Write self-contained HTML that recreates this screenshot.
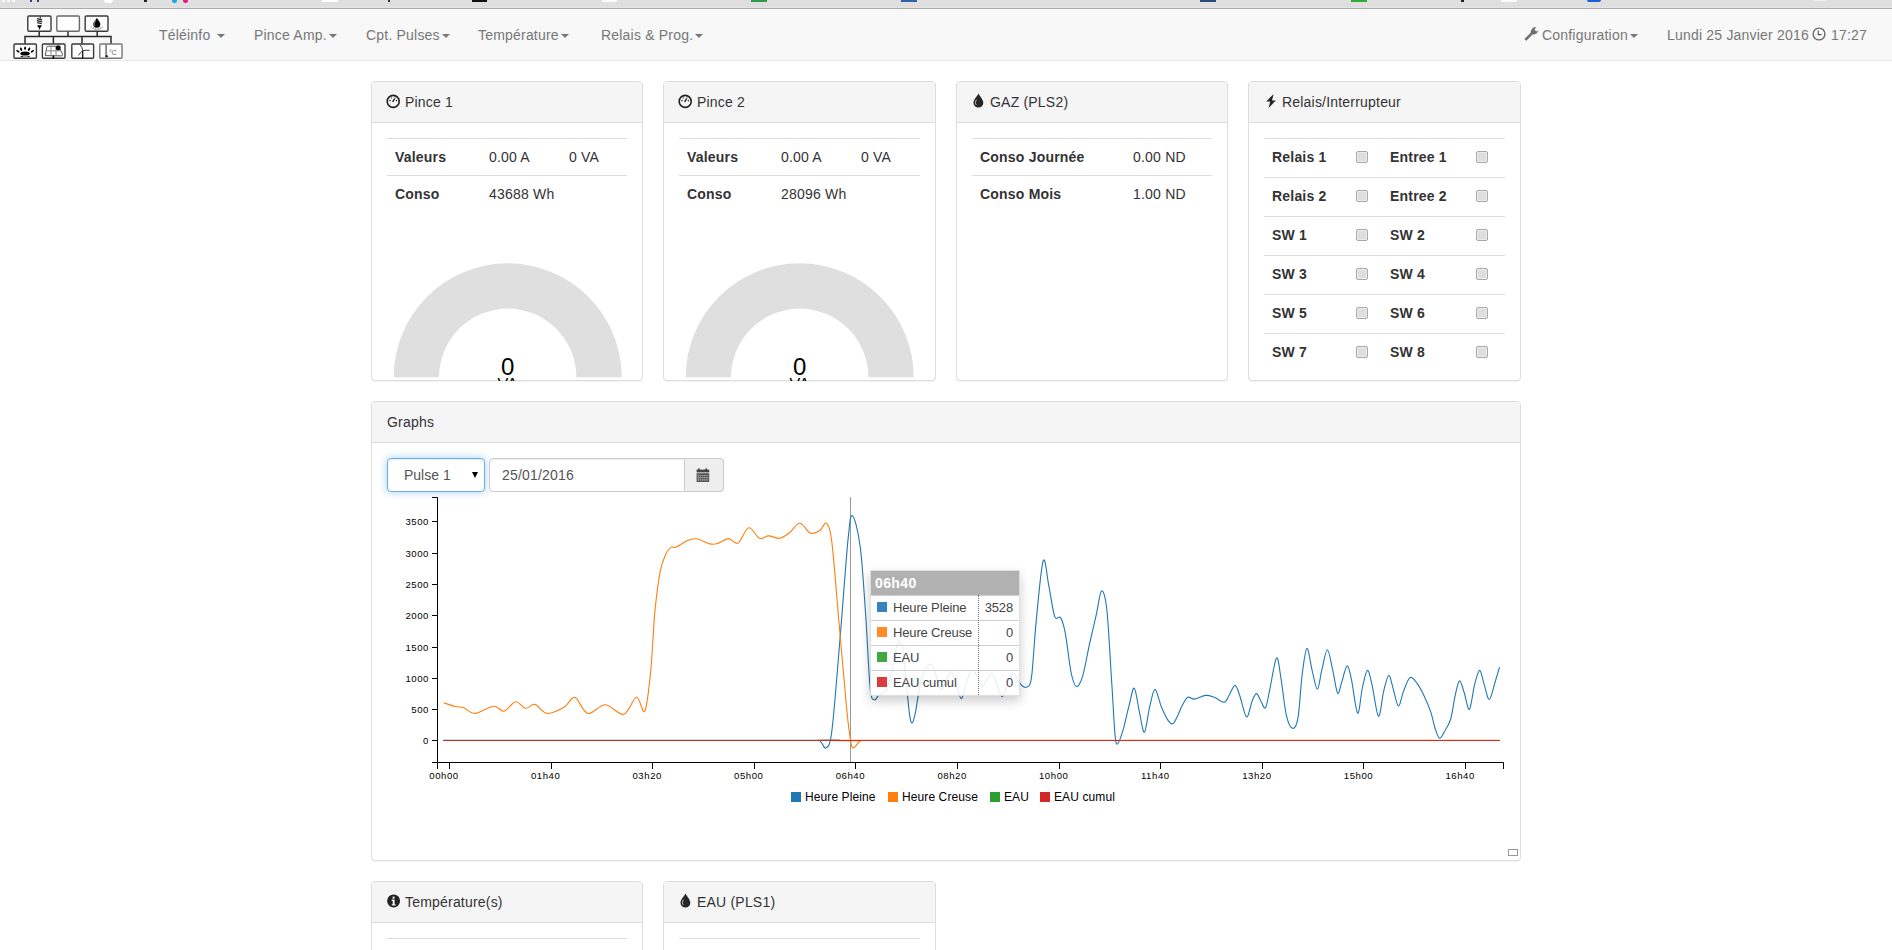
<!DOCTYPE html>
<html><head><meta charset="utf-8">
<style>
*{box-sizing:border-box;margin:0;padding:0}
html,body{width:1892px;height:950px;overflow:hidden;background:#fff}
body{font-family:"Liberation Sans",sans-serif;font-size:14px;color:#333;position:relative;line-height:20px;letter-spacing:.2px}
.abs{position:absolute}
#bbar{position:absolute;left:0;top:0;width:1892px;height:9px;background:linear-gradient(#dfdfdf 0,#dfdfdf 7px,#e4e4e4 7px,#e4e4e4 8px);border-bottom:1px solid #ababab;overflow:hidden}
#bbar i{position:absolute;top:0;height:2px;display:block}
#nav{position:absolute;left:0;top:9px;width:1892px;height:52px;background:#f8f8f8;border-bottom:1px solid #e7e7e7}
.nl{position:absolute;top:0;height:51px;line-height:20px;padding-top:16px;color:#777;white-space:nowrap}
.caret{display:inline-block;width:0;height:0;margin-left:2px;vertical-align:middle;border-top:4px solid;border-right:4px solid transparent;border-left:4px solid transparent}
.panel{position:absolute;background:#fff;border:1px solid #ddd;border-radius:4px;box-shadow:0 1px 1px rgba(0,0,0,.05)}
.ph{height:41px;background:#f5f5f5;border-bottom:1px solid #ddd;border-radius:3px 3px 0 0;padding:10px 15px;color:#333;white-space:nowrap;position:relative}
.ph svg{position:absolute}
.ph span{position:absolute;top:10px}
table{border-collapse:collapse;position:absolute;table-layout:fixed}
td,th{padding:8px;line-height:20px;border-top:1px solid #ddd;text-align:left;vertical-align:top;white-space:nowrap;height:37px}
th{font-weight:bold}
.rt td,.rt th{height:39px;padding-top:8px}
.cb{display:inline-block;width:12px;height:12px;border:1px solid #a9a9a9;border-radius:2px;background:#dedede;box-shadow:inset 0 0 0 1px #ececec;vertical-align:top;margin-top:4px}
.gtxt{font-family:"Liberation Sans",sans-serif;font-size:9.6px;letter-spacing:.55px;fill:#000}
#tt{position:absolute;left:870px;top:570px;width:150px;height:126px;border:1px solid rgba(0,0,0,.12);box-shadow:0 5px 10px rgba(0,0,0,.2);background:rgba(255,255,255,.88);font-size:13px;color:#444;letter-spacing:-.15px}
#tt .h{height:24px;background:#b1b1b1;color:#fff;font-weight:bold;padding:2px 0 0 4px;line-height:20px;font-size:14px;letter-spacing:.4px}
#tt .r{height:25px;border-top:1px solid #cfcfcf;position:relative;line-height:20px}
#tt .r b{position:absolute;left:6px;top:6px;width:10px;height:10px;opacity:.9}
#tt .r .n{position:absolute;left:22px;top:2px}
#tt .r .v{position:absolute;right:6px;top:2px}
#tt .sep{position:absolute;left:107px;top:24px;height:100px;border-left:1px dotted #777}
.leg{position:absolute;top:792px;width:10px;height:10px}
.legt{position:absolute;top:787px;font-size:12px;color:#000;letter-spacing:.1px}
</style></head>
<body>
<div id="bbar">
  <i style="left:2px;width:3px;background:#fafafa"></i><i style="left:7px;width:3px;background:#fafafa"></i><i style="left:12px;width:3px;background:#fafafa"></i>
  <i style="left:30px;width:2px;background:#3a3a80"></i><i style="left:37px;width:2px;background:#3a3a80"></i>
  <i style="left:104px;width:9px;height:3px;background:#fff;border-radius:0 0 5px 5px"></i>
  <i style="left:144px;width:3px;background:#222"></i>
  <i style="left:172px;width:5px;height:3px;background:#1aa7e8;border-radius:0 0 3px 3px"></i>
  <i style="left:183px;width:5px;height:3px;background:#e5197f;border-radius:0 0 3px 3px"></i>
  <i style="left:322px;width:16px;background:#fff"></i>
  <i style="left:388px;width:2px;background:#333"></i>
  <i style="left:472px;width:15px;background:#111"></i>
  <i style="left:602px;width:15px;background:#fafafa"></i>
  <i style="left:751px;width:16px;background:#2f9a4a"></i>
  <i style="left:901px;width:16px;background:#3460b0"></i>
  <i style="left:1200px;width:16px;background:#2b4a7c"></i>
  <i style="left:1351px;width:16px;background:#fff;border:1px solid #3a3"></i>
  <i style="left:1461px;width:3px;background:#222"></i>
  <i style="left:1501px;width:16px;background:#fafafa"></i>
  <i style="left:1587px;width:14px;background:#1b5fd8;border-radius:0 0 3px 3px"></i>
  <i style="left:1813px;width:14px;height:1px;background:#f0f0f0"></i>
</div>

<div id="nav">
  <!-- logo -->
  <svg class="abs" style="left:0;top:-9px" width="130" height="62" viewBox="0 0 130 62">
    <g fill="#fff" stroke="#3a3a3a" stroke-width="1.4">
      <rect x="27.8" y="16" width="23.2" height="15.3" rx="1.2"/>
      <rect x="56.8" y="16" width="22.6" height="15.3" rx="1.2" stroke="#6a6a6a"/>
      <rect x="85.2" y="16" width="22.8" height="15.3" rx="1.2"/>
      <rect x="14" y="44" width="22.4" height="14.2" rx="1"/>
      <rect x="42.4" y="44" width="22.6" height="14.2" rx="1"/>
      <rect x="71.8" y="44" width="21.8" height="14.2" rx="1"/>
      <rect x="99.8" y="44" width="22.2" height="14.2" rx="1" stroke="#777"/>
    </g>
    <g fill="none" stroke="#2a2a2a" stroke-width="1.5">
      <path d="M25 43.5V36.5H111V43.5M39.2 31.8V36.5M68 31.8V36.5M97.2 31.8V36.5M53.4 36.5V43.5M82 36.5V43.5"/>
    </g>
    <!-- bulb -->
    <g fill="none" stroke="#222" stroke-width="1.1">
      <path d="M40.3 16.6V18.4M37 18.6l5.2 1.3M36.8 20.6l5.4 1.3M37.2 22.6l4.6 1.1" />
    </g>
    <path d="M37.3 25.2h4.4c0 1.2-.6 1.7-1.2 2.3l-.9 2.4-.9-2.4c-.7-.6-1.4-1.1-1.4-2.3z" fill="#000"/>
    <!-- flame drop -->
    <path d="M96.9 18c1.3 2.2 3.5 4.2 3.5 6.1a3.6 3.6 0 0 1-7.2 0c0-1.9 2.4-3.9 3.7-6.1z" fill="#000"/>
    <path d="M96 20.3c-1 1.6-2 2.6-2 3.9 0 .8.4 1.5 1 2" fill="none" stroke="#777" stroke-width="1.1"/>
    <path d="M91 26.3c.5 2 2.5 3.2 5.8 3.2 3.2 0 5.6-1.4 6.2-3.3M93 27.5c1.6.2 2.9.8 3.8 2M100.8 27.5c-1.6.2-2.9.8-3.8 2" fill="none" stroke="#aaa" stroke-width="1"/>
    <!-- sunrise -->
    <g fill="#000">
      <ellipse cx="25.1" cy="53.4" rx="4.7" ry="2"/>
      <ellipse cx="25.1" cy="48.3" rx=".95" ry="1.8"/>
      <ellipse cx="21.1" cy="49.2" rx=".95" ry="1.8" transform="rotate(-28 21.1 49.2)"/>
      <ellipse cx="29.1" cy="49.2" rx=".95" ry="1.8" transform="rotate(28 29.1 49.2)"/>
      <ellipse cx="17.9" cy="51.3" rx=".95" ry="1.9" transform="rotate(-58 17.9 51.3)"/>
      <ellipse cx="32.4" cy="51.3" rx=".95" ry="1.9" transform="rotate(58 32.4 51.3)"/>
    </g>
    <path d="M20.6 56.4h2.4M27.3 56.4h2.4" stroke="#111" stroke-width="1"/>
    <path d="M23 56.6h4.3" stroke="#999" stroke-width="1"/>
    <!-- solar -->
    <path d="M45.3 55.6l1.5-8.4c.2-.7.6-1 1.4-1h7.5l3.5 1.5 3 5.6.3 1.6c0 .7-.4 1-1 1z" fill="#fff" stroke="#555" stroke-width="1"/>
    <path d="M51 46.6v9M56 46.6v9M46.3 50.8h15" stroke="#888" stroke-width="1"/>
    <circle cx="58.2" cy="47.8" r="2.5" fill="#000"/>
    <path d="M53.4 55.6v3" stroke="#000" stroke-width="1.6"/>
    <!-- wind -->
    <path d="M82.7 58.4V51" stroke="#111" stroke-width="1.3"/>
    <path d="M82.8 50.6c-.4-2.4-1.4-4.2-2.6-5.8M82.8 50.6c2.2-.4 4.6-.4 6.8-.2M82.8 50.6c-1.8 1.3-3.2 3-4.2 4.8" fill="none" stroke="#333" stroke-width="1"/>
    <!-- thermo -->
    <path d="M106.1 44.6v11.4" stroke="#666" stroke-width="1.4"/>
    <ellipse cx="106.6" cy="56.3" rx="1.6" ry="1" fill="#222"/>
    <text x="109" y="54.5" font-family="Liberation Sans" font-size="7.2" fill="#666" letter-spacing="-.3">°C</text>
  </svg>
  <div class="nl" style="left:159px">Téléinfo <span class="caret"></span></div>
  <div class="nl" style="left:254px">Pince Amp.<span class="caret"></span></div>
  <div class="nl" style="left:366px">Cpt. Pulses<span class="caret"></span></div>
  <div class="nl" style="left:478px">Température<span class="caret"></span></div>
  <div class="nl" style="left:601px">Relais &amp; Prog.<span class="caret"></span></div>
  <svg class="abs" style="left:1523px;top:17px" width="16" height="16" viewBox="0 0 16 16"><path d="M1.4 12.9l6.8-6.7 1.9 1.9-6.8 6.7z" fill="#6f6f6f"/><path d="M7.7 7.6C7.4 5.4 8 3.1 10.3 1.4L13.4.9 11.3 3.6 13.2 5.5 15.3 4.3C15 6.6 13.3 8.3 10.6 8.4z" fill="#6f6f6f"/></svg>
  <div class="nl" style="left:1542px">Configuration<span class="caret"></span></div>
  <div class="nl" style="left:1667px">Lundi 25 Janvier 2016</div>
  <svg class="abs" style="left:1812px;top:18px" width="14" height="14" viewBox="0 0 14 14"><circle cx="7" cy="7" r="5.9" fill="none" stroke="#6a6a6a" stroke-width="1.4"/><path d="M6.3 3.6V7.6H9.6" fill="none" stroke="#555" stroke-width="1.1"/></svg>
  <div class="nl" style="left:1831px">17:27</div>
</div>

<!-- Pince 1 -->
<div class="panel" style="left:371px;top:81px;width:272px;height:300px">
  <div class="ph"><svg style="left:14px;top:12px" width="15" height="15" viewBox="0 0 15 15"><circle cx="7.2" cy="7.4" r="6" fill="none" stroke="#222" stroke-width="1.6"/><circle cx="4" cy="6.6" r=".8" fill="#333"/><circle cx="10.4" cy="6.6" r=".8" fill="#333"/><circle cx="5.5" cy="3.9" r=".7" fill="#555"/><circle cx="9" cy="3.9" r=".7" fill="#555"/><path d="M6.6 8l2-3.4" stroke="#222" stroke-width="1.4"/></svg><span style="left:33px">Pince 1</span></div>
</div>
<table style="left:387px;top:138px;width:240px">
  <col style="width:94px"><col style="width:80px"><col style="width:66px">
  <tr><th>Valeurs</th><td>0.00 A</td><td>0 VA</td></tr>
  <tr><th>Conso</th><td>43688 Wh</td><td></td></tr>
</table>

<div class="panel" style="left:663px;top:81px;width:273px;height:300px">
  <div class="ph"><svg style="left:14px;top:12px" width="15" height="15" viewBox="0 0 15 15"><circle cx="7.2" cy="7.4" r="6" fill="none" stroke="#222" stroke-width="1.6"/><circle cx="4" cy="6.6" r=".8" fill="#333"/><circle cx="10.4" cy="6.6" r=".8" fill="#333"/><circle cx="5.5" cy="3.9" r=".7" fill="#555"/><circle cx="9" cy="3.9" r=".7" fill="#555"/><path d="M6.6 8l2-3.4" stroke="#222" stroke-width="1.4"/></svg><span style="left:33px">Pince 2</span></div>
</div>
<table style="left:679px;top:138px;width:241px">
  <col style="width:94px"><col style="width:80px"><col style="width:67px">
  <tr><th>Valeurs</th><td>0.00 A</td><td>0 VA</td></tr>
  <tr><th>Conso</th><td>28096 Wh</td><td></td></tr>
</table>

<!-- gauges -->
<svg class="abs" style="left:371px;top:250px" width="273" height="131" viewBox="0 0 273 131">
  <path d="M22.7 127.3A114 114 0 0 1 250.7 127.3H205.4A68.7 68.7 0 0 0 68 127.3Z" fill="#dfdfdf"/>
  <text x="136.7" y="124.6" text-anchor="middle" font-family="Liberation Sans" font-size="24" fill="#010101">0</text>
  <text x="136.7" y="140" text-anchor="middle" font-family="Liberation Sans" font-size="16" fill="#010101">VA</text>
</svg>
<svg class="abs" style="left:663px;top:250px" width="273" height="131" viewBox="0 0 273 131">
  <path d="M22.7 127.3A114 114 0 0 1 250.7 127.3H205.4A68.7 68.7 0 0 0 68 127.3Z" fill="#dfdfdf"/>
  <text x="136.7" y="124.6" text-anchor="middle" font-family="Liberation Sans" font-size="24" fill="#010101">0</text>
  <text x="136.7" y="140" text-anchor="middle" font-family="Liberation Sans" font-size="16" fill="#010101">VA</text>
</svg>

<div class="panel" style="left:956px;top:81px;width:272px;height:300px">
  <div class="ph"><svg style="left:16px;top:11px" width="12" height="15" viewBox="0 0 12 15"><path d="M5.5 .4C7 3.5 10.3 6.5 10.3 9.7a4.9 4.9 0 0 1-9.8 0C.5 6.5 4 3.5 5.5.4z" fill="#262626"/><path d="M3.4 6.8c-1.1 1.6-1.3 3.7-.1 5.2" fill="none" stroke="#e8e8e8" stroke-width=".8"/></svg><span style="left:33px">GAZ (PLS2)</span></div>
</div>
<table style="left:972px;top:138px;width:240px">
  <col style="width:153px"><col style="width:87px">
  <tr><th>Conso Journée</th><td>0.00 ND</td></tr>
  <tr><th>Conso Mois</th><td>1.00 ND</td></tr>
</table>

<div class="panel" style="left:1248px;top:81px;width:273px;height:300px">
  <div class="ph"><svg style="left:17px;top:11px" width="11" height="16" viewBox="0 0 11 16"><path d="M7.6 .9L.3 8.6h3.9L2.7 15 9.8 7.4H6z" fill="#222"/></svg><span style="left:33px">Relais/Interrupteur</span></div>
</div>
<table class="rt" style="left:1264px;top:138px;width:241px">
  <col style="width:84px"><col style="width:34px"><col style="width:86px"><col style="width:37px">
  <tr><th>Relais 1</th><td><i class="cb"></i></td><th>Entree 1</th><td><i class="cb"></i></td></tr>
  <tr><th>Relais 2</th><td><i class="cb"></i></td><th>Entree 2</th><td><i class="cb"></i></td></tr>
  <tr><th>SW 1</th><td><i class="cb"></i></td><th>SW 2</th><td><i class="cb"></i></td></tr>
  <tr><th>SW 3</th><td><i class="cb"></i></td><th>SW 4</th><td><i class="cb"></i></td></tr>
  <tr><th>SW 5</th><td><i class="cb"></i></td><th>SW 6</th><td><i class="cb"></i></td></tr>
  <tr><th>SW 7</th><td><i class="cb"></i></td><th>SW 8</th><td><i class="cb"></i></td></tr>
</table>

<!-- Graphs -->
<div class="panel" style="left:371px;top:401px;width:1150px;height:460px">
  <div class="ph"><span style="left:15px">Graphs</span></div>
</div>
<div class="abs" style="left:387px;top:458px;width:98px;height:34px;border:1px solid #66afe9;border-radius:4px;box-shadow:inset 0 1px 1px rgba(0,0,0,.075),0 0 8px rgba(102,175,233,.6);color:#555;padding:6px 0 0 16px;background:#fff;letter-spacing:0">Pulse 1<span style="position:absolute;left:84px;top:13px;border-top:6px solid #000;border-left:3.5px solid transparent;border-right:3.5px solid transparent"></span></div>
<div class="abs" style="left:489px;top:458px;width:235px;height:34px;border:1px solid #ccc;border-radius:4px;box-shadow:inset 0 1px 1px rgba(0,0,0,.075);color:#555;background:#fff">
  <div class="abs" style="left:12px;top:6px">25/01/2016</div>
  <div class="abs" style="left:194px;top:-1px;width:40px;height:34px;background:#eee;border:1px solid #ccc;border-radius:0 4px 4px 0"></div>
  <svg class="abs" style="left:206px;top:9px" width="14" height="15" viewBox="0 0 14 15"><path d="M.6 1.6h12.6v2.8H.6z" fill="#444"/><path d="M2.2.6h1.6v1.6H2.2zM9.4.6h1.6v1.6H9.4z" fill="#333"/><path d="M.6 5.3h12.6v8.6H.6z" fill="#454545"/><path d="M2.5 7v6M4.6 7v6M6.7 7v6M8.8 7v6M10.9 7v6M.6 7.3h12.6M.6 9.6h12.6M.6 11.9h12.6" stroke="#bdbdbd" stroke-width=".55"/></svg>
</div>

<svg class="abs gtxt" style="left:0;top:0" width="1892" height="950" viewBox="0 0 1892 950" shape-rendering="auto">
<path d="M432 497.5H437.5V762.5H432M432 762.5H1503.5V769M437.5 762.5V769" fill="none" stroke="#000" stroke-width="1"/>
<path d="M432 740.5H437.5" stroke="#000"/>
<text x="429" y="743.7" text-anchor="end">0</text>
<path d="M432 709.5H437.5" stroke="#000"/>
<text x="429" y="712.7" text-anchor="end">500</text>
<path d="M432 678.5H437.5" stroke="#000"/>
<text x="429" y="681.7" text-anchor="end">1000</text>
<path d="M432 647.5H437.5" stroke="#000"/>
<text x="429" y="650.7" text-anchor="end">1500</text>
<path d="M432 615.5H437.5" stroke="#000"/>
<text x="429" y="618.7" text-anchor="end">2000</text>
<path d="M432 584.5H437.5" stroke="#000"/>
<text x="429" y="587.7" text-anchor="end">2500</text>
<path d="M432 553.5H437.5" stroke="#000"/>
<text x="429" y="556.7" text-anchor="end">3000</text>
<path d="M432 521.5H437.5" stroke="#000"/>
<text x="429" y="524.7" text-anchor="end">3500</text>
<path d="M449.5 762.5V769" stroke="#000"/>
<text x="444.0" y="779.3" text-anchor="middle">00h00</text>
<path d="M551.5 762.5V769" stroke="#000"/>
<text x="545.6" y="779.3" text-anchor="middle">01h40</text>
<path d="M652.5 762.5V769" stroke="#000"/>
<text x="647.2" y="779.3" text-anchor="middle">03h20</text>
<path d="M754.5 762.5V769" stroke="#000"/>
<text x="748.8" y="779.3" text-anchor="middle">05h00</text>
<path d="M855.5 762.5V769" stroke="#000"/>
<text x="850.4" y="779.3" text-anchor="middle">06h40</text>
<path d="M957.5 762.5V769" stroke="#000"/>
<text x="952.1" y="779.3" text-anchor="middle">08h20</text>
<path d="M1059.5 762.5V769" stroke="#000"/>
<text x="1053.7" y="779.3" text-anchor="middle">10h00</text>
<path d="M1160.5 762.5V769" stroke="#000"/>
<text x="1155.3" y="779.3" text-anchor="middle">11h40</text>
<path d="M1262.5 762.5V769" stroke="#000"/>
<text x="1256.9" y="779.3" text-anchor="middle">13h20</text>
<path d="M1363.5 762.5V769" stroke="#000"/>
<text x="1358.5" y="779.3" text-anchor="middle">15h00</text>
<path d="M1465.5 762.5V769" stroke="#000"/>
<text x="1460.1" y="779.3" text-anchor="middle">16h40</text>
  <path d="M850.5 497V762" stroke="#999" stroke-width="1"/>
<path d="M443.5 740.4C504.6 740.4 747.3 740.3 810.0 740.4C872.7 740.5 817.1 739.5 819.8 740.7C822.5 742.0 824.0 749.6 826.0 747.9C828.0 746.2 829.6 748.6 831.9 730.5C834.2 712.4 837.3 671.0 840.0 639.2C842.7 607.4 845.9 560.5 848.0 539.9C850.1 519.3 850.4 514.7 852.4 515.7C854.4 516.7 857.9 529.9 860.1 546.0C862.3 562.1 863.8 588.7 865.5 612.4C867.2 636.1 868.7 673.8 870.2 688.3C871.7 702.8 872.9 698.5 874.3 699.7C875.6 701.0 876.9 696.8 878.3 695.8C879.6 694.8 881.0 694.5 882.4 693.5C883.8 692.5 884.9 693.1 886.4 689.5C887.9 685.9 890.0 679.1 891.6 672.1C893.2 665.1 894.9 652.9 896.3 647.8C897.6 642.7 898.6 640.6 899.7 641.4C900.9 642.2 902.0 644.8 903.2 652.4C904.4 660.0 905.6 676.7 906.7 687.1C907.8 697.5 908.7 708.9 909.6 714.9C910.5 720.9 911.2 723.4 912.2 723.0C913.2 722.6 914.4 717.2 915.4 712.6C916.4 708.0 917.2 701.1 918.3 695.3C919.3 689.5 920.4 682.5 921.7 677.9C923.1 673.3 925.0 669.8 926.4 667.5C927.8 665.2 929.0 663.6 930.4 664.0C931.8 664.4 933.1 666.3 934.5 669.8C935.9 673.3 937.2 681.5 938.5 684.8C939.8 688.1 940.8 690.3 942.0 689.5C943.2 688.7 944.5 683.1 946.0 680.2C947.5 677.3 949.6 671.7 951.3 672.1C952.9 672.5 954.3 678.1 955.9 682.5C957.5 686.9 959.5 698.3 961.1 698.7C962.7 699.1 964.0 689.5 965.7 684.8C967.4 680.1 969.8 672.1 971.5 670.4C973.2 668.7 974.4 671.8 976.1 674.4C977.8 677.0 980.4 684.6 981.9 686.0C983.4 687.4 983.8 684.6 985.4 682.5C987.0 680.4 989.9 673.1 991.8 673.5C993.7 673.9 995.3 680.9 997.0 684.8C998.7 688.6 1000.6 696.6 1002.2 696.6C1003.8 696.6 1005.2 688.7 1006.8 684.8C1008.4 680.9 1010.4 674.6 1012.0 673.3C1013.6 671.9 1015.2 674.9 1016.7 676.7C1018.2 678.5 1019.0 682.6 1020.7 684.3C1022.4 686.0 1025.1 688.4 1026.9 687.1C1028.7 685.8 1030.0 687.6 1031.6 676.6C1033.1 665.6 1034.3 640.4 1036.2 621.1C1038.1 601.8 1041.1 566.6 1043.2 560.8C1045.3 555.0 1047.0 577.0 1048.9 586.3C1050.8 595.6 1052.8 611.2 1054.7 616.4C1056.6 621.6 1058.8 614.9 1060.5 617.6C1062.2 620.3 1063.5 623.5 1065.2 632.6C1067.0 641.7 1069.2 663.0 1071.0 672.0C1072.8 681.0 1074.4 685.6 1076.3 686.4C1078.2 687.2 1080.3 683.6 1082.5 676.6C1084.7 669.6 1087.2 654.6 1089.5 644.2C1091.8 633.8 1094.4 623.0 1096.4 614.1C1098.4 605.2 1099.8 591.8 1101.5 591.0C1103.2 590.2 1105.1 594.8 1106.8 609.5C1108.5 624.2 1110.1 658.2 1111.5 679.0C1112.9 699.8 1114.0 723.7 1115.0 734.5C1116.0 745.3 1116.4 744.6 1117.7 743.8C1119.0 743.0 1121.2 736.1 1123.1 729.9C1124.9 723.7 1126.9 713.7 1128.8 706.7C1130.7 699.8 1132.5 687.4 1134.2 688.2C1136.0 689.0 1137.6 704.1 1139.3 711.4C1141.0 718.7 1142.7 733.0 1144.4 732.2C1146.1 731.4 1147.9 713.8 1149.7 706.7C1151.5 699.6 1153.1 689.4 1155.0 689.4C1156.9 689.4 1159.1 701.5 1161.3 706.7C1163.5 711.9 1166.3 717.8 1168.2 720.6C1170.1 723.5 1171.3 724.3 1172.7 723.8C1174.1 723.3 1175.2 720.7 1176.8 717.6C1178.4 714.5 1180.5 708.7 1182.3 705.3C1184.1 701.9 1185.8 698.3 1187.8 697.3C1189.8 696.3 1191.6 699.4 1194.6 699.1C1197.6 698.8 1202.4 695.7 1205.6 695.4C1208.8 695.1 1210.7 696.0 1213.8 697.1C1216.9 698.2 1221.6 702.5 1224.1 702.3C1226.6 702.1 1227.1 698.5 1228.9 695.7C1230.7 692.9 1233.2 685.4 1235.0 685.4C1236.8 685.4 1237.9 690.5 1239.8 695.7C1241.7 701.0 1244.5 716.0 1246.6 716.9C1248.6 717.8 1250.4 705.1 1252.1 701.2C1253.8 697.3 1255.0 693.6 1256.5 693.6C1258.0 693.6 1259.5 698.9 1261.0 701.2C1262.5 703.6 1264.0 709.8 1265.5 707.7C1267.0 705.7 1268.1 697.2 1269.9 688.9C1271.7 680.6 1274.7 659.9 1276.5 658.1C1278.3 656.3 1279.3 668.4 1280.9 677.9C1282.5 687.4 1284.4 706.5 1286.3 714.9C1288.2 723.3 1290.5 727.8 1292.5 728.3C1294.5 728.8 1296.4 726.5 1298.0 717.6C1299.6 708.8 1300.6 686.7 1302.1 675.2C1303.6 663.7 1305.2 649.2 1306.9 648.5C1308.6 647.8 1310.5 664.3 1312.3 671.1C1314.0 677.9 1315.8 689.3 1317.4 689.1C1319.0 688.9 1320.2 676.2 1321.9 669.7C1323.6 663.2 1325.6 649.6 1327.4 649.8C1329.2 650.0 1331.2 663.9 1332.9 671.1C1334.6 678.3 1336.2 691.4 1337.7 693.2C1339.2 695.0 1340.2 686.5 1341.8 682.0C1343.3 677.5 1345.4 666.4 1347.0 665.9C1348.6 665.4 1349.6 671.4 1351.4 679.3C1353.2 687.2 1355.8 711.8 1357.6 713.2C1359.4 714.6 1360.8 694.6 1362.4 687.5C1364.0 680.4 1365.8 670.9 1367.4 670.4C1369.0 669.9 1370.2 677.1 1372.0 684.7C1373.8 692.3 1376.6 715.1 1378.5 716.2C1380.4 717.4 1381.9 698.4 1383.6 691.6C1385.3 684.8 1387.1 675.9 1388.7 675.4C1390.3 674.9 1391.6 683.8 1393.2 688.9C1394.8 694.0 1396.7 705.5 1398.4 706.0C1400.1 706.5 1401.5 696.3 1403.4 691.6C1405.3 686.9 1407.7 679.0 1410.0 677.6C1412.3 676.2 1414.8 680.4 1417.1 683.4C1419.4 686.4 1421.7 690.9 1424.0 695.7C1426.3 700.5 1429.0 706.7 1430.8 712.1C1432.6 717.5 1433.5 723.6 1435.0 728.0C1436.5 732.4 1437.9 737.6 1439.5 738.2C1441.1 738.8 1442.6 734.7 1444.5 731.5C1446.4 728.3 1448.9 725.2 1450.7 719.0C1452.5 712.8 1453.9 700.6 1455.4 694.3C1456.9 687.9 1458.1 681.1 1459.6 680.9C1461.1 680.7 1462.7 688.2 1464.3 693.0C1465.9 697.8 1467.7 710.8 1469.4 709.4C1471.1 708.0 1472.9 691.2 1474.6 684.7C1476.3 678.2 1478.1 670.4 1479.7 670.4C1481.3 670.4 1482.6 679.9 1484.2 684.7C1485.8 689.6 1487.6 700.0 1489.4 699.5C1491.2 699.0 1493.4 687.4 1495.1 682.0C1496.8 676.6 1498.8 669.7 1499.5 667.2" fill="none" stroke="#1f77b4" stroke-width="1.1"/>
<path d="M443.5 702.7C445.4 703.3 451.8 705.7 455.1 706.5C458.4 707.3 460.0 706.5 463.3 707.6C466.6 708.8 469.9 713.6 474.9 713.4C479.9 713.2 488.6 706.6 493.5 706.2C498.4 705.8 500.3 712.0 504.0 711.2C507.7 710.5 512.0 702.2 515.6 701.7C519.2 701.2 522.2 707.8 525.5 708.3C528.8 708.8 531.5 703.5 535.1 704.4C538.7 705.2 542.1 713.0 547.0 713.4C551.9 713.8 559.8 709.7 564.4 707.0C569.0 704.3 571.0 696.3 574.9 697.4C578.8 698.5 582.7 712.3 587.7 713.5C592.7 714.7 599.1 704.7 605.1 704.8C611.1 704.9 618.5 715.6 623.7 714.3C628.9 713.0 633.0 697.7 636.5 697.2C640.0 696.7 642.4 715.4 644.8 711.1C647.2 706.8 649.0 687.9 650.7 671.4C652.4 654.9 653.2 628.9 654.8 612.4C656.4 595.9 658.3 581.7 660.1 572.1C661.9 562.5 663.7 558.8 665.5 554.7C667.3 550.6 669.1 548.7 670.9 547.4C672.7 546.1 673.5 548.2 676.2 547.1C678.9 546.0 683.6 542.1 687.0 540.7C690.4 539.3 692.6 538.3 696.4 538.8C700.2 539.3 706.2 543.1 709.8 543.9C713.4 544.7 714.7 544.3 717.8 543.4C720.9 542.5 725.2 538.6 728.6 538.6C732.0 538.6 734.6 544.9 738.0 543.1C741.4 541.3 745.1 528.6 748.7 527.8C752.3 527.0 756.0 536.9 759.4 538.3C762.8 539.6 765.4 535.9 768.8 535.9C772.2 535.9 776.2 538.8 779.6 538.3C783.0 537.8 785.6 535.7 789.0 533.2C792.4 530.7 796.1 523.3 799.7 523.3C803.3 523.3 807.0 532.0 810.4 533.2C813.8 534.4 817.1 532.1 819.8 530.5C822.5 528.9 824.6 521.3 826.6 523.3C828.6 525.3 829.9 526.9 831.9 542.6C833.9 558.3 836.1 590.0 838.6 617.7C841.1 645.4 844.7 688.4 846.7 709.0C848.7 729.6 849.6 734.7 850.7 741.2C851.8 747.7 851.8 747.9 853.4 747.9C855.0 747.9 858.0 742.5 860.1 741.2C862.2 740.0 759.4 740.5 866.0 740.4C972.6 740.3 1394.0 740.4 1499.6 740.4" fill="none" stroke="#ff7f0e" stroke-width="1.1"/>
  <path d="M443.3 740.5H1499.6" stroke="#2ca02c" stroke-width="1.1"/>
  <path d="M443.3 740.5H1499.6" stroke="#d62728" stroke-width="1.1"/>
  <rect x="1508.5" y="849.5" width="9" height="6" fill="none" stroke="#999" stroke-width="1"/>
</svg>

<div class="leg" style="left:791px;background:#1f77b4"></div><div class="legt" style="left:805px">Heure Pleine</div>
<div class="leg" style="left:888px;background:#ff7f0e"></div><div class="legt" style="left:902px">Heure Creuse</div>
<div class="leg" style="left:990px;background:#2ca02c"></div><div class="legt" style="left:1004px">EAU</div>
<div class="leg" style="left:1040px;background:#d62728"></div><div class="legt" style="left:1054px">EAU cumul</div>

<div id="tt">
  <div class="h">06h40</div>
  <div class="r"><b style="background:#1f77b4"></b><span class="n">Heure Pleine</span><span class="v">3528</span></div>
  <div class="r"><b style="background:#ff7f0e"></b><span class="n">Heure Creuse</span><span class="v">0</span></div>
  <div class="r"><b style="background:#2ca02c"></b><span class="n">EAU</span><span class="v">0</span></div>
  <div class="r"><b style="background:#d62728"></b><span class="n">EAU cumul</span><span class="v">0</span></div>
  <div class="sep"></div>
</div>

<div class="panel" style="left:371px;top:881px;width:272px;height:100px">
  <div class="ph"><svg style="left:15px;top:12px" width="14" height="14" viewBox="0 0 14 14"><circle cx="6.6" cy="6.9" r="6.5" fill="#222"/><path d="M5.6 2.6h2v2h-2z" fill="#f5f5f5"/><path d="M4.7 5.6h2.9v4.6h1v1.4H4.7v-1.4h1V7H4.7z" fill="#f5f5f5"/></svg><span style="left:33px">Température(s)</span></div>
</div>
<div class="abs" style="left:387px;top:938px;width:240px;height:1px;background:#ddd"></div>
<div class="panel" style="left:663px;top:881px;width:273px;height:100px">
  <div class="ph"><svg style="left:16px;top:11px" width="12" height="15" viewBox="0 0 12 15"><path d="M5.5 .4C7 3.5 10.3 6.5 10.3 9.7a4.9 4.9 0 0 1-9.8 0C.5 6.5 4 3.5 5.5.4z" fill="#262626"/><path d="M3.4 6.8c-1.1 1.6-1.3 3.7-.1 5.2" fill="none" stroke="#e8e8e8" stroke-width=".8"/></svg><span style="left:33px">EAU (PLS1)</span></div>
</div>
<div class="abs" style="left:679px;top:938px;width:241px;height:1px;background:#ddd"></div>
</body></html>
